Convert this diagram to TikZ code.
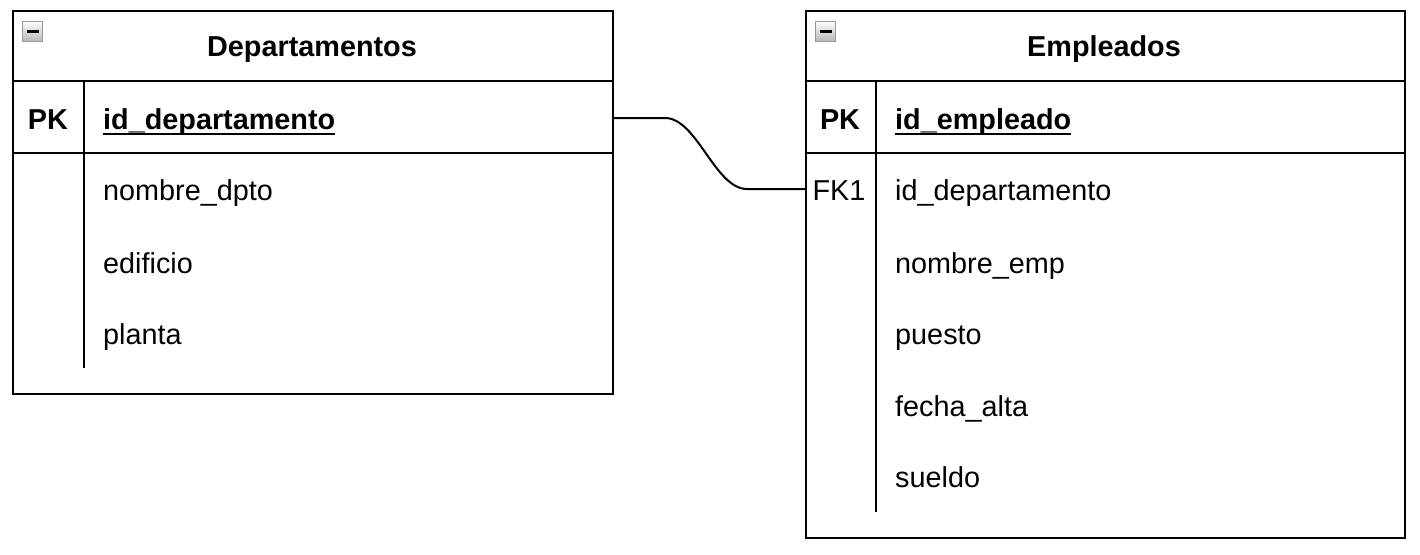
\documentclass[tikz,border=0pt]{standalone}
\usepackage{fontspec}
\setmainfont{Liberation Sans}
\begin{document}
\begin{tikzpicture}[x=1pt,y=-1pt,
  tbl/.style={draw=black,line width=2pt,fill=white,inner sep=0pt},
  sep/.style={draw=black,line width=2pt},
  txt/.style={inner sep=0pt,anchor=base west,font=\fontsize{28.8}{34}\selectfont},
  keyt/.style={inner sep=0pt,anchor=base,font=\fontsize{28.8}{34}\selectfont},
  ttl/.style={inner sep=0pt,anchor=base,font=\fontsize{28.8}{34}\selectfont\bfseries},
  icon/.style={draw=gray!80,line width=1pt,top color=white,bottom color=gray!55,minimum size=20pt,inner sep=0pt},
  ul/.style={draw=black,line width=1.6pt},
  conn/.style={draw=black,line width=2pt}]
\useasboundingbox (0,0) rectangle (1420,554);
% ---------- Departamentos ----------
\node[tbl,minimum width=600pt,minimum height=383pt,anchor=north west] (dep) at (12,10) {};
\draw[sep] (12,81) -- (612,81);
\draw[sep] (12,153) -- (612,153);
\draw[sep] (84,81) -- (84,368);
\node[icon] (depicon) at (32.5,31) {};
\draw[line width=3pt] ([xshift=-6pt]depicon.center) -- ([xshift=6pt]depicon.center);
\node[ttl] (deptitle) at (312,56) {Departamentos};
\node[keyt,font=\fontsize{28.8}{34}\selectfont\bfseries] (deppk) at (48,129) {PK};
\node[txt,font=\fontsize{28.8}{34}\selectfont\bfseries] (depid) at (103,129) {id\_departamento};
\draw[ul] ([yshift=-5pt]depid.base west) -- ([yshift=-5pt]depid.base east);
\node[txt] (depnom) at (103,200) {nombre\_dpto};
\node[txt] (depedi) at (103,273) {edificio};
\node[txt] (deppla) at (103,344) {planta};
\coordinate (depout) at (612,118);
% ---------- Empleados ----------
\node[tbl,minimum width=599pt,minimum height=527pt,anchor=north west] (emp) at (805,10) {};
\draw[sep] (805,81) -- (1404,81);
\draw[sep] (805,153) -- (1404,153);
\draw[sep] (876,81) -- (876,512);
\node[icon] (empicon) at (825.5,31) {};
\draw[line width=3pt] ([xshift=-6pt]empicon.center) -- ([xshift=6pt]empicon.center);
\node[ttl] (emptitle) at (1104,56) {Empleados};
\node[keyt,font=\fontsize{28.8}{34}\selectfont\bfseries] (emppk) at (840,129) {PK};
\node[txt,font=\fontsize{28.8}{34}\selectfont\bfseries] (empid) at (895,129) {id\_empleado};
\draw[ul] ([yshift=-5pt]empid.base west) -- ([yshift=-5pt]empid.base east);
\node[keyt] (empfk) at (839,200) {FK1};
\node[txt] (empdep) at (895,200) {id\_departamento};
\node[txt] (empnom) at (895,273) {nombre\_emp};
\node[txt] (emppue) at (895,344) {puesto};
\node[txt] (empfec) at (895,416) {fecha\_alta};
\node[txt] (empsue) at (895,487) {sueldo};
\coordinate (empin) at (805,189);
% ---------- connector ----------
\draw[conn] (depout) -- (665,118) .. controls (697,118) and (715,189) .. (747,189) -- (empin);
\end{tikzpicture}
\end{document}
